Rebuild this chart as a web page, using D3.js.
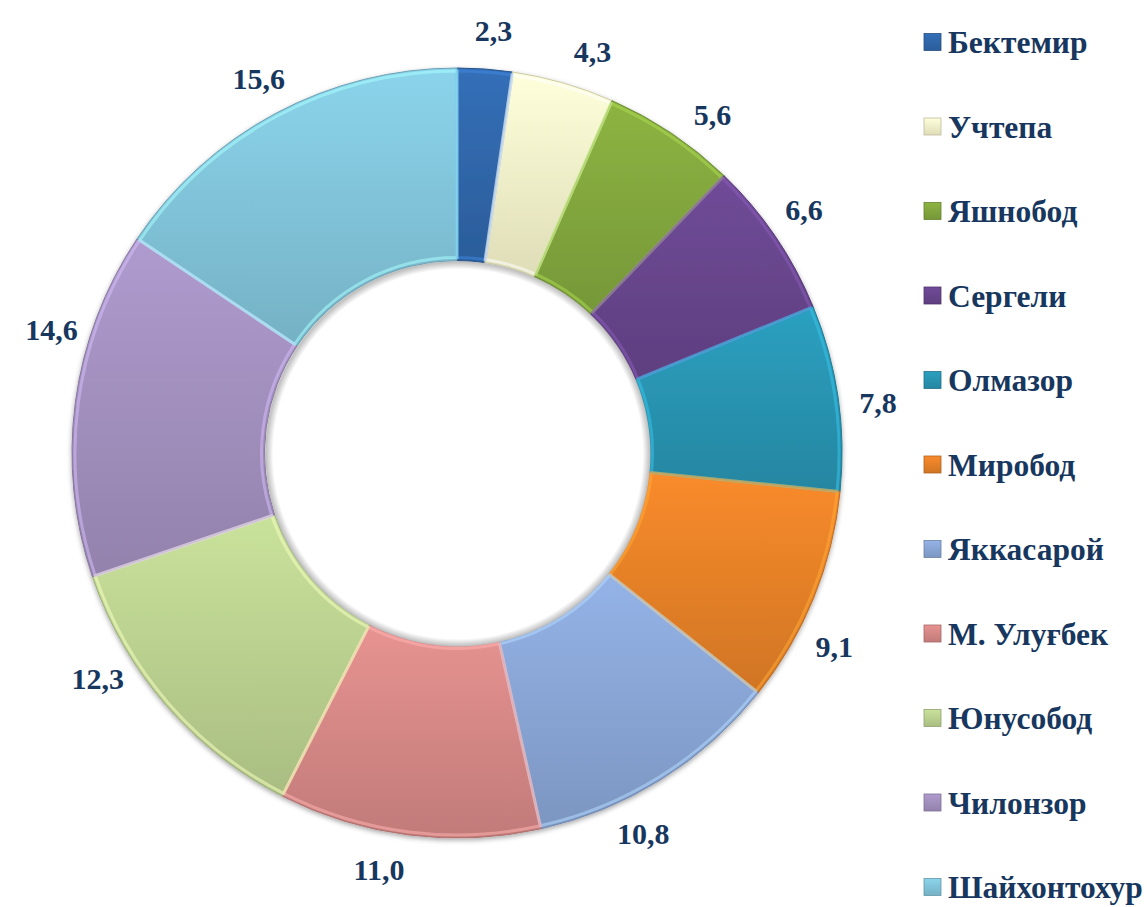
<!DOCTYPE html>
<html>
<head>
<meta charset="utf-8">
<script src="https://cdn.jsdelivr.net/npm/d3@7"></script>
<style>
  body { margin: 0; background: #fff; }
  svg text { font-family: "Liberation Serif", "Times New Roman", serif; font-weight: bold; fill: #17375E; }
</style>
</head>
<body>
<div id="chart"></div>
<script>
// districts and their shares, in drawing order (clockwise from 12 o'clock)
const districts = ["Бектемир", "Учтепа", "Яшнобод", "Сергели", "Олмазор", "Миробод",
  "Яккасарой", "М. Улуғбек", "Юнусобод", "Чилонзор", "Шайхонтохур"];
const shares = [2.3, 4.3, 5.6, 6.6, 7.8, 9.1, 10.8, 11.0, 12.3, 14.6, 15.6];
const sliceColors = ["#3169AE", "#FBFAD0", "#86AB3F", "#6A4790", "#2A98B6", "#EC8429",
  "#8CAADB", "#DB8B89", "#BFD693", "#A693C3", "#84C9DF"];
// small angular nudges (degrees) so labels sit where the original had them
const labelNudge = [0.8, 2.6, 3.2, -0.9, 1.4, 5, 6, 3.4, 8.8, 9.4, 0.2];

let width = 1147,
    height = 907;
let cx = 457, cy = 453;
let outerR = 385, innerR = 192.5, labelR = 424;

let data = districts.map((name, i) => ({ name: name, value: shares[i], color: sliceColors[i], nudge: labelNudge[i] }));

let svg = d3.select("#chart")
    .append("svg")
    .attr("width", width)
    .attr("height", height);

let defs = svg.append("defs");

let shadow = defs.append("filter")
    .attr("id", "shadow")
    .attr("x", "-10%").attr("y", "-10%")
    .attr("width", "120%").attr("height", "120%");
shadow.append("feDropShadow")
    .attr("dx", 0).attr("dy", 2)
    .attr("stdDeviation", 2.5)
    .attr("flood-color", "#000")
    .attr("flood-opacity", 0.35);

data.forEach((d, i) => {
  let g = defs.append("linearGradient")
      .attr("id", "grad" + i)
      .attr("x1", 0).attr("y1", 0)
      .attr("x2", 0).attr("y2", 1);
  g.append("stop").attr("offset", "0%").attr("stop-color", d3.color(d.color).brighter(0.15));
  g.append("stop").attr("offset", "100%").attr("stop-color", d3.color(d.color).darker(0.35));
});

let pie = d3.pie()
    .value(d => d.value)
    .sort(null);

let arc = d3.arc()
    .innerRadius(innerR)
    .outerRadius(outerR);

let bevelArc = d3.arc()
    .innerRadius(innerR + 3)
    .outerRadius(outerR - 3);

let arcs = pie(data);

let ring = svg.append("g")
    .attr("transform", `translate(${cx},${cy})`)
    .attr("filter", "url(#shadow)");

ring.selectAll("path.slice")
    .data(arcs)
    .enter().append("path")
    .attr("class", "slice")
    .attr("d", arc)
    .attr("fill", (d, i) => `url(#grad${i})`)
    .attr("stroke", d => d3.color(d.data.color).darker(0.6))
    .attr("stroke-width", 1);

// light bevel edge just inside each slice
svg.append("g")
    .attr("transform", `translate(${cx},${cy})`)
    .selectAll("path")
    .data(arcs)
    .enter().append("path")
    .attr("d", bevelArc)
    .attr("fill", "none")
    .attr("stroke", d => d3.color(d.data.color).brighter(0.7))
    .attr("stroke-opacity", 0.55)
    .attr("stroke-width", 3);

// shadow along the hole edge
let holeGrad = defs.append("radialGradient")
    .attr("id", "hole")
    .attr("cx", "50%").attr("cy", "50%").attr("r", "50%");
holeGrad.append("stop").attr("offset", "96%").attr("stop-color", "#fff");
holeGrad.append("stop").attr("offset", "100%").attr("stop-color", "#bbb");

svg.append("circle")
    .attr("cx", cx + 1)
    .attr("cy", cy + 1)
    .attr("r", innerR)
    .attr("fill", "url(#hole)");

// value labels
let labelArc = d3.arc()
    .innerRadius(labelR)
    .outerRadius(labelR);

svg.append("g")
    .attr("transform", `translate(${cx},${cy})`)
    .selectAll("text")
    .data(arcs)
    .enter().append("text")
    .attr("transform", d => {
      let mid = (d.startAngle + d.endAngle) / 2 + d.data.nudge * Math.PI / 180;
      let p = labelArc.centroid({ startAngle: mid, endAngle: mid });
      return `translate(${p[0]},${p[1]})`;
    })
    .attr("text-anchor", "middle")
    .attr("dy", "0.35em")
    .attr("font-size", 30)
    .text(d => d3.format(".1f")(d.data.value).replace(".", ","));

// legend
let legendY = d3.scalePoint()
    .domain(districts)
    .range([42, 887]);

let legend = svg.append("g")
    .selectAll("g")
    .data(data)
    .enter().append("g")
    .attr("transform", d => `translate(924,${legendY(d.name)})`);

legend.append("rect")
    .attr("x", 0)
    .attr("y", -8.5)
    .attr("width", 17)
    .attr("height", 17)
    .attr("fill", (d, i) => `url(#grad${i})`)
    .attr("stroke", d => d3.color(d.color).darker(0.8))
    .attr("stroke-width", 0.8);

legend.append("text")
    .attr("x", 24)
    .attr("y", 11)
    .attr("font-size", 31.5)
    .text(d => d.name);
</script>
</body>
</html>
